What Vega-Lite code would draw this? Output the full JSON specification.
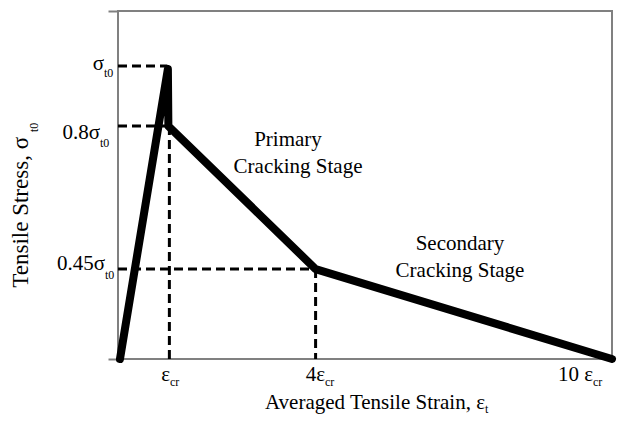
{
  "$schema": "https://vega.github.io/schema/vega-lite/v6.json",
  "width": 494,
  "height": 348,
  "autosize": "none",
  "padding": {"left": 118, "top": 11, "right": 6, "bottom": 67},
  "background": "white",
  "config": {
    "view": {"stroke": "#808080", "strokeWidth": 2},
    "text": {"font": "Liberation Serif", "fill": "#000"}
  },
  "datasets": {
    "curve": [
      {"i": 0, "strain": 0.04, "stress": 0.0},
      {"i": 1, "strain": 1.01, "stress": 0.99},
      {"i": 2, "strain": 1.02, "stress": 0.795},
      {"i": 3, "strain": 4.0, "stress": 0.307},
      {"i": 4, "strain": 10.0, "stress": 0.0}
    ],
    "guides": [
      {"x1": 0, "x2": 1.0, "y1": 1.0, "y2": 1.0},
      {"x1": 0, "x2": 1.02, "y1": 0.795, "y2": 0.795},
      {"x1": 0, "x2": 4.0, "y1": 0.307, "y2": 0.307},
      {"x1": 1.04, "x2": 1.04, "y1": 0.795, "y2": 0.0},
      {"x1": 4.0, "x2": 4.0, "y1": 0.307, "y2": 0.0}
    ],
    "mainLabels": [
      {"x": -0.283, "y": 0.987, "t": "σ"},
      {"x": -0.364, "y": 0.751, "t": "0.8σ"},
      {"x": -0.263, "y": 0.304, "t": "0.45σ"},
      {"x": 1.053, "y": -0.074, "t": "ε"},
      {"x": 4.19, "y": -0.074, "t": "4ε"},
      {"x": 9.615, "y": -0.074, "t": "10 ε"}
    ],
    "xTitle": [
      {"x": 7.429, "y": -0.17, "t": "Averaged Tensile Strain, ε"}
    ],
    "subLabels": [
      {"x": -0.283, "y": 0.963, "t": "t0"},
      {"x": -0.364, "y": 0.724, "t": "t0"},
      {"x": -0.263, "y": 0.273, "t": "t0"},
      {"x": 1.053, "y": -0.092, "t": "cr"},
      {"x": 4.19, "y": -0.092, "t": "cr"},
      {"x": 9.615, "y": -0.092, "t": "cr"},
      {"x": 7.429, "y": -0.186, "t": "t"}
    ],
    "stageLabels": [
      {"x": 3.441, "y": 0.727, "t": "Primary"},
      {"x": 3.644, "y": 0.635, "t": "Cracking Stage"},
      {"x": 6.923, "y": 0.372, "t": "Secondary"},
      {"x": 6.923, "y": 0.28, "t": "Cracking Stage"}
    ],
    "yTitle": [{"x": -1.822, "y": 0.758, "t": "Tensile Stress, σ"}],
    "yTitleSub": [{"x": -1.619, "y": 0.775, "t": "t0"}]
  },
  "layer": [
    {
      "data": {"name": "guides"},
      "mark": {"type": "rule", "stroke": "#000", "strokeWidth": 3, "strokeDash": [9, 5]},
      "encoding": {
        "x": {"field": "x1", "type": "quantitative", "scale": {"domain": [0, 10], "nice": false, "zero": false},
          "axis": {"orient": "bottom", "domain": false, "grid": false, "ticks": false, "labels": false, "title": null}},
        "x2": {"field": "x2"},
        "y": {"field": "y1", "type": "quantitative", "scale": {"domain": [0, 1.188], "nice": false, "zero": false},
          "axis": {"orient": "left", "domain": false, "grid": false, "labels": false, "title": null,
            "values": [0, 1.188], "tickSize": 10, "tickWidth": 2, "tickColor": "#808080"}},
        "y2": {"field": "y2"}
      }
    },
    {
      "data": {"name": "curve"},
      "mark": {"type": "line", "stroke": "#000", "strokeWidth": 8, "strokeJoin": "round", "strokeCap": "round"},
      "encoding": {
        "x": {"field": "strain", "type": "quantitative"},
        "y": {"field": "stress", "type": "quantitative"},
        "order": {"field": "i"}
      }
    },
    {
      "data": {"name": "mainLabels"},
      "mark": {"type": "text", "align": "right", "baseline": "alphabetic", "fontSize": 21, "fill": "#000"},
      "encoding": {
        "x": {"field": "x", "type": "quantitative"},
        "y": {"field": "y", "type": "quantitative"},
        "text": {"field": "t"}
      }
    },
    {
      "data": {"name": "xTitle"},
      "mark": {"type": "text", "align": "right", "baseline": "alphabetic", "fontSize": 21, "fill": "#000"},
      "encoding": {
        "x": {"field": "x", "type": "quantitative"},
        "y": {"field": "y", "type": "quantitative"},
        "text": {"field": "t"}
      }
    },
    {
      "data": {"name": "subLabels"},
      "mark": {"type": "text", "align": "left", "baseline": "alphabetic", "fontSize": 12, "fill": "#000"},
      "encoding": {
        "x": {"field": "x", "type": "quantitative"},
        "y": {"field": "y", "type": "quantitative"},
        "text": {"field": "t"}
      }
    },
    {
      "data": {"name": "stageLabels"},
      "mark": {"type": "text", "align": "center", "baseline": "alphabetic", "fontSize": 21, "fill": "#000"},
      "encoding": {
        "x": {"field": "x", "type": "quantitative"},
        "y": {"field": "y", "type": "quantitative"},
        "text": {"field": "t"}
      }
    },
    {
      "data": {"name": "yTitle"},
      "mark": {"type": "text", "align": "right", "baseline": "alphabetic", "fontSize": 23, "angle": 270, "fill": "#000"},
      "encoding": {
        "x": {"field": "x", "type": "quantitative"},
        "y": {"field": "y", "type": "quantitative"},
        "text": {"field": "t"}
      }
    },
    {
      "data": {"name": "yTitleSub"},
      "mark": {"type": "text", "align": "left", "baseline": "alphabetic", "fontSize": 12, "angle": 270, "fill": "#000"},
      "encoding": {
        "x": {"field": "x", "type": "quantitative"},
        "y": {"field": "y", "type": "quantitative"},
        "text": {"field": "t"}
      }
    }
  ]
}
